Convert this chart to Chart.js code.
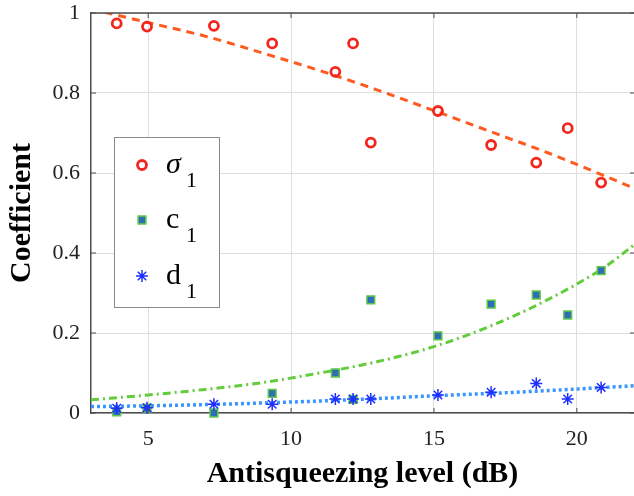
<!DOCTYPE html>
<html>
<head>
<meta charset="utf-8">
<script src="https://cdn.jsdelivr.net/npm/chart.js@4.4.0/dist/chart.umd.min.js"></script>
<style>
  html, body { margin: 0; padding: 0; background: #fff; }
  #wrap { width: 634px; height: 496px; }
</style>
</head>
<body>
<div id="wrap"><canvas id="coefChart" width="634" height="496"></canvas></div>
<script>
// measured points
const levels = [3.9, 4.96, 7.3, 9.34, 11.55, 12.17, 12.79, 15.14, 17.0, 18.58, 19.68, 20.85];
const sigma1 = [0.974, 0.966, 0.968, 0.924, 0.853, 0.924, 0.676, 0.755, 0.670, 0.626, 0.712, 0.576];
const c1 = [0.003, 0.012, 0.0, 0.049, 0.10, 0.034, 0.283, 0.193, 0.272, 0.295, 0.245, 0.356];
const d1 = [0.012, 0.013, 0.022, 0.022, 0.035, 0.035, 0.035, 0.045, 0.052, 0.074, 0.035, 0.064];

// fitted curves
const fitLevels = [3, 5, 7, 9, 11, 13, 15, 17, 19, 21, 22];
const sigmaFit = [1.01, 0.976, 0.942, 0.900, 0.856, 0.808, 0.756, 0.703, 0.650, 0.592, 0.562];
const cFit = [0.033, 0.045, 0.059, 0.076, 0.100, 0.128, 0.166, 0.218, 0.284, 0.366, 0.42];
const dFit = [0.016, 0.018, 0.021, 0.025, 0.030, 0.036, 0.043, 0.049, 0.056, 0.064, 0.068];

const xTickLabels = ['5', '10', '15', '20'];
const yTickLabels = ['0', '0.2', '0.4', '0.6', '0.8', '1'];

function pts(xs, ys) {
  return xs.map((x, i) => ({ x: x, y: ys[i] }));
}

const serif = "'Liberation Serif', 'Times New Roman', serif";

// top frame line, inward ticks and the legend box
const framePlugin = {
  id: 'frame',
  afterDraw(chart) {
    const ctx = chart.ctx;
    const a = chart.chartArea;
    const xs = chart.scales.x, ys = chart.scales.y;
    ctx.save();
    ctx.strokeStyle = '#4d4d4d';
    ctx.lineWidth = 1.5;
    ctx.beginPath();
    ctx.moveTo(a.left, a.top);
    ctx.lineTo(a.right, a.top);
    ctx.stroke();
    ctx.lineWidth = 1;
    ctx.beginPath();
    xs.ticks.forEach(t => {
      const px = xs.getPixelForValue(t.value);
      ctx.moveTo(px, a.bottom); ctx.lineTo(px, a.bottom - 5);
      ctx.moveTo(px, a.top); ctx.lineTo(px, a.top + 5);
    });
    ys.ticks.forEach(t => {
      const py = ys.getPixelForValue(t.value);
      ctx.moveTo(a.left, py); ctx.lineTo(a.left + 5, py);
      ctx.moveTo(a.right, py); ctx.lineTo(a.right - 4, py);
    });
    ctx.stroke();

    // legend
    const lx = 114, ly = 137, lw = 105, lh = 170;
    ctx.fillStyle = '#fff';
    ctx.fillRect(lx, ly, lw, lh);
    ctx.strokeStyle = '#8a8a8a';
    ctx.lineWidth = 1;
    ctx.strokeRect(lx + 0.5, ly + 0.5, lw, lh);

    const items = [
      { ds: 3, name: 'σ', italic: true, y: 165 },
      { ds: 4, name: 'c', italic: false, y: 220 },
      { ds: 5, name: 'd', italic: false, y: 276 }
    ];
    items.forEach(it => {
      const ds = chart.data.datasets[it.ds];
      ctx.fillStyle = ds.backgroundColor;
      ctx.strokeStyle = ds.borderColor;
      ctx.lineWidth = ds.borderWidth;
      Chart.helpers.drawPoint(ctx, {
        pointStyle: ds.pointStyle,
        radius: ds.pointRadius,
        borderWidth: ds.borderWidth
      }, 142, it.y);
      ctx.fillStyle = '#000';
      ctx.textBaseline = 'alphabetic';
      ctx.textAlign = 'left';
      ctx.font = (it.italic ? 'italic ' : '') + '30px ' + serif;
      ctx.fillText(it.name, 166, it.y + 8);
      ctx.font = '22px ' + serif;
      ctx.fillText('1', 186, it.y + 22);
    });
    ctx.restore();
  }
};

let coefCanvas = document.getElementById('coefChart');
let coefChart = new Chart(coefCanvas, {
  type: 'scatter',
  data: {
    datasets: [{
      type: 'line',
      data: pts(fitLevels, sigmaFit),
      borderColor: '#ff5a1f',
      borderWidth: 3,
      borderDash: [8, 6],
      pointRadius: 0,
      cubicInterpolationMode: 'monotone',
      fill: false,
      order: 2
    },
    {
      type: 'line',
      data: pts(fitLevels, cFit),
      borderColor: '#63cc3c',
      borderWidth: 3,
      borderDash: [8, 4, 2, 4],
      pointRadius: 0,
      cubicInterpolationMode: 'monotone',
      fill: false,
      order: 2
    },
    {
      type: 'line',
      data: pts(fitLevels, dFit),
      borderColor: '#3a95ff',
      borderWidth: 3.5,
      borderDash: [3, 3],
      pointRadius: 0,
      cubicInterpolationMode: 'monotone',
      fill: false,
      order: 2
    },
    {
      label: 'σ1',
      data: pts(levels, sigma1),
      pointStyle: 'circle',
      pointRadius: 4.5,
      borderWidth: 2.8,
      borderColor: '#f2261c',
      backgroundColor: 'rgba(255,255,255,0)',
      clip: false,
      order: 0
    },
    {
      label: 'c1',
      data: pts(levels, c1),
      pointStyle: 'rect',
      pointRadius: 5.5,
      borderWidth: 1.5,
      borderColor: '#5cc94a',
      backgroundColor: '#2f6db5',
      clip: false,
      order: 1
    },
    {
      label: 'd1',
      data: pts(levels, d1),
      pointStyle: 'star',
      pointRadius: 6,
      borderWidth: 1.5,
      borderColor: '#1f2fff',
      backgroundColor: '#1f2fff',
      clip: false,
      order: 0
    }]
  },
  options: {
    responsive: false,
    animation: false,
    layout: { autoPadding: false, padding: { top: 13, right: 0, left: 0, bottom: 0 } },
    plugins: {
      legend: { display: false },
      tooltip: { enabled: false }
    },
    scales: {
      x: {
        type: 'linear',
        min: 3,
        max: 22,
        afterFit: function (axis) {
          axis.height = 83;
          axis.paddingLeft = 0;
          axis.paddingRight = 0;
        },
        ticks: {
          stepSize: 5,
          includeBounds: false,
          padding: 13,
          color: '#222',
          font: { family: serif, size: 22 },
          callback: function (v) { return xTickLabels.indexOf(String(v)) >= 0 ? String(v) : ''; }
        },
        grid: { color: '#dedede', lineWidth: 1, drawTicks: false },
        border: { color: '#4d4d4d', width: 1.5 },
        title: {
          display: true,
          text: 'Antisqueezing level (dB)',
          color: '#000',
          font: { family: serif, size: 30, weight: 'bold' },
          padding: { top: 0, bottom: 4 }
        }
      },
      y: {
        min: 0,
        max: 1,
        afterFit: function (axis) {
          axis.width = 91;
          axis.paddingTop = 0;
          axis.paddingBottom = 0;
        },
        ticks: {
          stepSize: 0.2,
          padding: 11,
          color: '#222',
          font: { family: serif, size: 22 },
          callback: function (v) {
            return yTickLabels[Math.round(v * 5)];
          }
        },
        grid: { color: '#dedede', lineWidth: 1, drawTicks: false },
        border: { color: '#4d4d4d', width: 1.5 },
        title: {
          display: true,
          text: 'Coefficient',
          color: '#000',
          font: { family: serif, size: 30, weight: 'bold' },
          padding: { top: 4, bottom: 0 }
        }
      }
    }
  },
  plugins: [framePlugin]
});
</script>
</body>
</html>
